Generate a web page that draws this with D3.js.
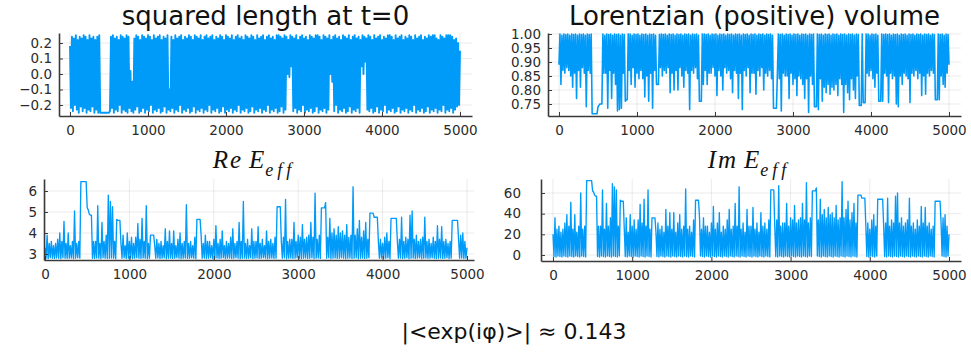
<!DOCTYPE html>
<html>
<head>
<meta charset="utf-8">
<script src="https://cdn.jsdelivr.net/npm/d3@7"></script>
<style>
  body { margin: 0; background: #fff; }
  svg { display: block; }
  .tick text { font-family: "DejaVu Sans", sans-serif; font-size: 13.5px; fill: #2b2b2b; }
</style>
</head>
<body>
<div id="chart"></div>
<script>
// Monte Carlo steps, read in blocks of 25 steps (0 ... 5000).
// Each series is kept as two readings per block: one at the block start,
// one half a block later (the trace swings between them many times).
const mcSteps = d3.range(0, 5001, 25);

// squared length at t=0
const sqLengthA = [
  0.18,0.24,0.23,0.25,0.22,0.24,0.23,0.25,0.24,0.22,
  0.25,0.23,0.24,0.22,0.24,0.25,-0.25,-0.25,-0.25,-0.25,
  -0.25,0.24,0.25,0.23,0.24,0.22,0.25,0.24,0.23,0.25,
  0.24,0.02,-0.05,0.23,0.25,0.24,0.22,0.25,0.24,0.23,
  0.25,0.24,0.22,0.25,0.23,0.24,0.25,0.22,0.24,0.23,
  0.25,-0.1,0.24,0.22,0.25,0.23,0.24,0.25,0.22,0.24,
  0.23,0.25,0.24,0.22,0.25,0.24,0.23,0.25,0.22,0.24,
  0.25,0.23,0.24,0.25,0.22,0.24,0.23,0.25,0.24,0.22,
  0.25,0.24,0.23,0.25,0.22,0.24,0.25,0.23,0.24,0.22,
  0.25,0.24,0.23,0.25,0.24,0.22,0.25,0.23,0.24,0.25,
  0.22,0.24,0.25,0.23,0.24,0.22,0.25,0.25,0.24,0.23,
  0.25,0.24,0.22,0.25,0.24,0.23,0.25,0.22,0.24,0.25,
  0.23,0.24,0.22,0.25,0.24,0.23,0.25,0.25,0.24,0.22,
  0.25,0.24,0.23,0.25,0.22,0.24,0.25,0.23,0.24,0.22,
  0.25,0.24,0.23,0.25,0.22,0.24,0.25,0.23,0.24,0.22,
  0.25,0.24,0.23,0.25,0.24,0.22,0.25,0.23,0.24,0.25,
  0.22,0.24,0.23,0.25,0.25,0.24,0.22,0.25,0.23,0.24,
  0.25,0.22,0.24,0.23,0.25,0.24,0.22,0.25,0.23,0.24,
  0.25,0.22,0.24,0.23,0.25,0.24,0.25,0.25,0.23,0.22,
  0.25,0.24,0.23,0.25,0.25,0.25,0.24,0.22,0.23,0.2,
  0.15
];
const sqLengthB = [
  -0.22,-0.24,-0.2,-0.23,-0.25,-0.21,-0.24,-0.22,-0.25,-0.23,
  -0.24,-0.21,-0.25,-0.23,-0.25,-0.25,-0.25,-0.25,-0.25,-0.25,
  -0.24,-0.22,-0.25,-0.23,-0.24,-0.2,-0.25,-0.23,-0.24,-0.25,
  -0.22,-0.24,-0.25,-0.23,-0.21,-0.25,-0.24,-0.22,-0.25,-0.23,
  -0.24,-0.2,-0.25,-0.23,-0.24,-0.22,-0.25,-0.24,-0.21,-0.25,
  -0.23,-0.24,-0.22,-0.25,-0.23,-0.24,-0.2,-0.25,-0.23,-0.24,
  -0.22,-0.25,-0.24,-0.21,-0.25,-0.23,-0.24,-0.22,-0.25,-0.23,
  -0.24,-0.2,-0.25,-0.23,-0.24,-0.22,-0.25,-0.24,-0.21,-0.25,
  -0.23,-0.24,-0.22,-0.25,-0.23,-0.24,-0.2,-0.25,-0.23,-0.24,
  -0.22,-0.25,-0.24,-0.21,-0.25,-0.23,-0.24,-0.22,-0.25,-0.23,
  -0.24,-0.2,-0.25,-0.23,-0.24,-0.22,-0.25,-0.24,-0.21,-0.25,
  -0.23,0.0,-0.02,0.05,-0.24,-0.22,-0.25,-0.23,-0.24,-0.2,
  -0.25,-0.23,-0.24,-0.22,-0.25,-0.24,-0.21,-0.25,-0.23,-0.24,
  -0.22,-0.25,-0.23,0.0,-0.05,-0.24,-0.2,-0.25,-0.23,-0.24,
  -0.22,-0.25,-0.24,-0.21,-0.25,-0.23,-0.24,-0.22,-0.25,0.05,
  0.0,0.08,-0.23,-0.24,-0.22,-0.25,-0.24,-0.21,-0.25,-0.23,
  -0.24,-0.2,-0.25,-0.23,-0.24,-0.22,-0.25,-0.24,-0.21,-0.25,
  -0.23,-0.24,-0.22,-0.25,-0.23,-0.24,-0.2,-0.25,-0.23,-0.24,
  -0.22,-0.25,-0.24,-0.21,-0.25,-0.23,-0.24,-0.22,-0.25,-0.23,
  -0.24,-0.2,-0.25,-0.23,-0.24,-0.22,-0.25,-0.23,-0.21,-0.2,
  -0.21
];

// Lorentzian (positive) volume
const lorVolumeA = [
  0.89,0.82,0.87,0.86,0.88,0.87,0.85,0.81,0.86,0.77,
  0.87,0.81,0.88,0.86,0.74,0.87,0.86,0.715,0.715,0.715,
  0.74,0.75,0.75,0.86,0.86,0.735,0.87,0.77,0.86,0.82,
  0.725,0.73,0.735,0.86,0.76,0.765,0.87,0.82,0.88,0.81,
  0.86,0.84,0.87,0.84,0.775,0.85,0.76,0.86,0.735,0.87,
  0.82,0.82,0.88,0.85,0.87,0.86,0.88,0.79,0.86,0.80,
  0.87,0.80,0.88,0.85,0.81,0.87,0.86,0.73,0.87,0.86,
  0.88,0.84,0.76,0.76,0.82,0.87,0.82,0.86,0.86,0.88,
  0.85,0.78,0.87,0.85,0.80,0.88,0.86,0.87,0.84,0.79,
  0.87,0.86,0.77,0.86,0.73,0.87,0.85,0.88,0.79,0.86,
  0.86,0.785,0.87,0.85,0.88,0.80,0.86,0.85,0.87,0.84,
  0.735,0.735,0.86,0.84,0.725,0.86,0.85,0.85,0.77,0.86,
  0.82,0.84,0.78,0.85,0.84,0.82,0.77,0.84,0.72,0.85,
  0.82,0.74,0.74,0.73,0.84,0.76,0.81,0.79,0.82,0.785,
  0.81,0.80,0.82,0.78,0.84,0.82,0.72,0.82,0.79,0.765,
  0.84,0.80,0.77,0.85,0.745,0.745,0.755,0.755,0.86,0.85,
  0.87,0.84,0.81,0.86,0.76,0.76,0.76,0.86,0.85,0.755,
  0.86,0.84,0.85,0.75,0.74,0.85,0.82,0.86,0.85,0.84,
  0.755,0.86,0.85,0.87,0.84,0.86,0.78,0.85,0.785,0.86,
  0.85,0.87,0.86,0.765,0.765,0.765,0.85,0.82,0.81,0.86,
  0.89
];
const lorVolumeB = [
  1,0.995,1,0.998,1,0.995,1,0.998,1,0.995,
  1,0.998,1,0.995,1,0.998,1,0.715,0.715,0.715,
  0.745,0.75,1,0.995,1,0.998,1,0.995,1,0.998,
  1,0.995,1,0.998,0.765,1,1,0.995,1,0.998,
  1,0.995,1,0.998,1,0.995,1,0.998,1,0.995,
  0.82,0.998,1,0.998,1,0.995,1,0.998,1,0.995,
  1,0.998,1,0.995,1,0.998,1,0.995,1,0.998,
  1,0.995,0.76,1,1,0.998,1,0.995,1,0.998,
  1,0.995,1,0.998,1,0.995,1,0.998,1,0.995,
  1,0.998,1,0.995,1,0.998,1,0.995,1,0.998,
  1,0.995,1,0.998,1,0.995,1,0.998,1,0.995,
  0.735,0.735,1,0.998,1,0.995,1,0.998,1,0.995,
  1,0.998,1,0.995,1,0.998,1,0.995,1,0.998,
  1,0.74,1,0.998,1,0.995,1,0.998,1,0.995,
  1,0.998,1,0.995,1,0.998,1,0.995,1,0.998,
  1,0.995,1,0.998,0.745,1,0.755,1,1,0.995,
  1,0.998,1,0.995,0.76,1,0.998,1,0.998,1,
  0.995,1,0.998,1,0.995,1,0.998,1,0.995,1,
  0.998,1,0.995,1,0.998,1,0.995,1,0.998,1,
  0.995,1,0.998,0.765,1,0.998,1,0.995,1,0.998,
  1
];

// Re E_eff
const reEeffA = [
  3.3,3.9,3.5,3.6,3.4,3.5,3.7,4.0,3.6,4.55,
  3.5,4.0,3.4,3.6,5.05,3.5,3.6,6.45,6.45,6.45,
  5.2,4.9,4.85,3.6,3.6,5.3,3.5,4.5,3.6,3.9,
  5.8,5.5,5.25,3.6,4.65,4.6,3.5,3.9,3.4,4.0,
  3.6,3.8,3.5,3.8,4.45,3.7,4.7,3.6,5.3,3.5,
  3.9,3.9,3.4,3.7,3.5,3.6,3.4,4.2,3.6,4.1,
  3.5,4.1,3.4,3.7,4.0,3.5,3.6,5.35,3.5,3.6,
  3.4,3.8,4.65,4.65,3.9,3.5,3.9,3.6,3.6,3.4,
  3.7,4.35,3.5,3.7,4.1,3.4,3.6,3.5,3.8,4.2,
  3.5,3.6,4.5,3.6,5.5,3.5,3.7,3.4,4.2,3.6,
  3.6,4.3,3.5,3.7,3.4,4.1,3.6,3.7,3.5,3.8,
  5.25,5.25,3.6,3.8,5.6,3.6,3.7,3.7,4.5,3.6,
  3.9,3.8,4.4,3.7,3.8,3.9,4.5,3.8,5.9,3.7,
  3.9,5.2,5.2,5.45,3.8,4.7,4.0,4.2,3.9,4.3,
  4.0,4.1,3.9,4.4,3.8,3.9,6.2,3.9,4.2,4.6,
  3.8,4.1,4.5,3.7,4.95,4.95,4.75,4.75,3.6,3.7,
  3.5,3.8,4.0,3.6,4.7,4.7,4.7,3.6,3.7,4.75,
  3.6,3.8,3.7,4.85,5.05,3.7,3.9,3.6,3.7,3.8,
  4.75,3.6,3.7,3.5,3.8,3.6,4.35,3.7,4.3,3.6,
  3.7,3.5,3.6,4.6,4.6,4.6,3.7,3.9,4.0,3.6,
  3.3
];
const reEeffB = [
  2.8,2.78,2.82,2.8,2.79,2.81,2.8,2.78,2.82,2.8,
  2.79,2.8,2.81,2.78,2.8,2.82,2.8,6.45,6.45,6.45,
  5.1,4.85,2.8,2.79,2.81,2.8,2.78,2.82,2.8,2.79,
  2.8,2.81,2.8,2.78,4.6,4.6,2.8,2.82,2.79,2.8,
  2.81,2.78,2.8,2.82,2.8,2.79,2.81,2.8,2.78,2.8,
  3.9,3.9,2.8,2.81,2.79,2.8,2.82,2.78,2.8,2.81,
  2.79,2.8,2.82,2.8,2.78,2.8,2.81,2.79,2.8,2.82,
  2.8,2.78,4.65,4.65,2.8,2.81,2.79,2.8,2.82,2.78,
  2.8,2.81,2.79,2.8,2.82,2.78,2.8,2.81,2.79,2.8,
  2.82,2.8,2.78,2.8,2.81,2.79,2.8,2.82,2.78,2.8,
  2.81,2.79,2.8,2.82,2.8,2.78,2.8,2.81,2.79,2.8,
  5.25,5.25,2.8,2.82,2.78,2.8,2.81,2.79,2.8,2.82,
  2.8,2.78,2.8,2.81,2.79,2.8,2.82,2.78,2.8,2.81,
  2.79,5.2,5.2,2.8,2.82,2.78,2.8,2.81,2.79,2.8,
  2.82,2.8,2.78,2.8,2.81,2.79,2.8,2.82,2.78,2.8,
  2.81,2.79,2.8,2.82,4.95,4.95,4.75,4.75,2.8,2.81,
  2.79,2.8,2.82,2.78,4.7,4.7,4.7,2.8,2.81,2.79,
  2.8,2.82,2.78,2.8,2.81,2.79,2.8,2.82,2.78,2.8,
  2.81,2.79,2.8,2.82,2.8,2.78,2.8,2.81,2.79,2.8,
  2.82,2.78,2.8,4.6,4.6,4.6,2.8,2.81,2.79,2.8,
  2.8
];

// Im E_eff
const imEeffA = [
  20,36,25,28,22,25,31,39,28,51,
  25,39,22,28,60,25,28,72,72,72,
  62,58,57,28,28,63,25,50,28,36,
  69,66,63,28,53,52,25,36,22,39,
  28,34,25,34,49,31,54,28,63,25,
  36,36,22,31,25,28,22,44,28,41,
  25,41,22,31,39,25,28,64,25,28,
  22,34,53,53,36,25,36,28,28,22,
  31,47,25,31,41,22,28,25,34,44,
  25,28,50,28,66,25,31,22,44,28,
  28,46,25,31,22,41,28,31,25,34,
  63,63,28,34,67,28,31,31,50,28,
  36,34,48,31,34,36,50,34,70,31,
  36,62,62,65,34,54,39,44,36,46,
  39,41,36,48,34,36,71,36,44,52,
  34,41,50,31,58,58,55,55,28,31,
  25,34,39,28,54,54,54,28,31,55,
  28,34,31,57,60,31,36,28,31,34,
  55,28,31,25,34,28,47,31,46,28,
  31,25,28,52,52,52,31,36,39,28,
  20
];
const imEeffB = [
  -1.5,-2,-1,-1.5,-2,-1,-1.5,-2,-1,-1.5,
  -2,-1,-1.5,-2,-1,-1.5,-2,72,72,72,
  61,57,-1.5,-2,-1,-1.5,-2,-1,-1.5,-2,
  -1,-1.5,-2,-1,52,52,-1.5,-2,-1,-1.5,
  -2,-1,-1.5,-2,-1,-1.5,-2,-1,-1.5,-2,
  36,36,-1.5,-2,-1,-1.5,-2,-1,-1.5,-2,
  -1,-1.5,-2,-1,-1.5,-2,-1,-1.5,-2,-1,
  -1.5,-2,53,53,-1,-1.5,-2,-1,-1.5,-2,
  -1,-1.5,-2,-1,-1.5,-2,-1,-1.5,-2,-1,
  -1.5,-2,-1,-1.5,-2,-1,-1.5,-2,-1,-1.5,
  -2,-1,-1.5,-2,-1,-1.5,-2,-1,-1.5,-2,
  63,63,-1.5,-2,-1,-1.5,-2,-1,-1.5,-2,
  -1,-1.5,-2,-1,-1.5,-2,-1,-1.5,-2,-1,
  -1.5,62,62,-1,-1.5,-2,-1,-1.5,-2,-1,
  -1.5,-2,-1,-1.5,-2,-1,-1.5,-2,-1,-1.5,
  -2,-1,-1.5,-2,58,58,55,55,-1.5,-2,
  -1,-1.5,-2,-1,54,54,54,-1.5,-2,-1,
  -1.5,-2,-1,-1.5,-2,-1,-1.5,-2,-1,-1.5,
  -2,-1,-1.5,-2,-1,-1.5,-2,-1,-1.5,-2,
  -1,-1.5,-2,52,52,52,-1,-1.5,-2,-1,
  -1.5
];

const xTicks = [0, 1000, 2000, 3000, 4000, 5000];
const sqLengthTicks = [-0.2, -0.1, 0.0, 0.1, 0.2];
const lorVolumeTicks = [0.75, 0.80, 0.85, 0.90, 0.95, 1.00];
const reEeffTicks = [3, 4, 5, 6];
const imEeffTicks = [0, 20, 40, 60];

const lineColor = '#009af9';
const width = 971, height = 354;

const svg = d3.select('#chart').append('svg')
  .attr('width', width)
  .attr('height', height);

// one subplot; frame = axis box, xPix/yPix = pixel anchors of two data values
function drawPanel(p) {
  const x = d3.scaleLinear().domain([0, 5000]).range(p.xPix);
  x.domain([x.invert(p.frame.left), x.invert(p.frame.right)]).range([p.frame.left, p.frame.right]);
  const y = d3.scaleLinear().domain(p.yAnchor).range(p.yPix);
  y.domain([y.invert(p.frame.bottom), y.invert(p.frame.top)]).range([p.frame.bottom, p.frame.top]);

  const g = svg.append('g');

  // grid
  g.append('g').selectAll('line').data(xTicks).enter().append('line')
    .attr('x1', d => x(d)).attr('x2', d => x(d))
    .attr('y1', p.frame.top).attr('y2', p.frame.bottom)
    .attr('stroke', '#000').attr('stroke-opacity', 0.08).attr('stroke-width', 1);
  g.append('g').selectAll('line').data(p.yTicks).enter().append('line')
    .attr('x1', p.frame.left).attr('x2', p.frame.right)
    .attr('y1', d => y(d)).attr('y2', d => y(d))
    .attr('stroke', '#000').attr('stroke-opacity', 0.08).attr('stroke-width', 1);

  // series: reading A at block start, reading B half a block later
  const pts = [];
  mcSteps.forEach((s, i) => {
    pts.push([s, p.a[i]]);
    if (i < mcSteps.length - 1) pts.push([s + 12.5, p.b[i]]);
  });
  const line = d3.line()
    .x(d => x(d[0]))
    .y(d => y(d[1]));
  g.append('path')
    .datum(pts)
    .attr('d', line)
    .attr('fill', 'none')
    .attr('stroke', lineColor)
    .attr('stroke-width', p.lw)
    .attr('stroke-linejoin', 'round');

  // axes
  const xAxis = g.append('g')
    .attr('transform', `translate(0,${p.frame.bottom})`)
    .call(d3.axisBottom(x).tickValues(xTicks).tickFormat(d3.format('d'))
      .tickSizeInner(-4).tickSizeOuter(0).tickPadding(9));
  const yAxis = g.append('g')
    .attr('transform', `translate(${p.frame.left},0)`)
    .call(d3.axisLeft(y).tickValues(p.yTicks).tickFormat(d3.format(p.yFormat))
      .tickSizeInner(-4).tickSizeOuter(0).tickPadding(p.yPad));
  [xAxis, yAxis].forEach(a => {
    a.select('.domain').attr('stroke', '#3a3a3a').attr('stroke-width', 1.6);
    a.selectAll('.tick line').attr('stroke', '#3a3a3a').attr('stroke-width', 1);
  });

  // title
  const cx = (p.frame.left + p.frame.right) / 2;
  if (p.title) {
    g.append('text')
      .attr('x', cx).attr('y', 25)
      .attr('text-anchor', 'middle')
      .style('font-family', '"DejaVu Sans", sans-serif')
      .style('font-size', '26px')
      .attr('fill', '#111')
      .text(p.title);
  } else {
    const t = g.append('text')
      .attr('x', p.titleX).attr('y', 168)
      .attr('text-anchor', 'middle')
      .style('font-family', '"Liberation Serif", "DejaVu Serif", serif')
      .style('font-style', 'italic')
      .style('font-size', '25px')
      .attr('fill', '#111');
    t.append('tspan').style('letter-spacing', '2px').text(p.mathPrefix);
    t.append('tspan').attr('dx', 6).text('E');
    t.append('tspan').attr('dy', 8).attr('dx', 1)
      .style('font-size', '18px').style('letter-spacing', '4px').text('eff');
  }
}

drawPanel({
  a: sqLengthA, b: sqLengthB, title: 'squared length at t=0', lw: 1.9,
  frame: { left: 59, right: 472, top: 33, bottom: 116 },
  xPix: [70, 460], yAnchor: [-0.2, 0.2], yPix: [105, 43],
  yTicks: sqLengthTicks, yFormat: '.1f', yPad: 7
});
drawPanel({
  a: lorVolumeA, b: lorVolumeB, title: 'Lorentzian (positive) volume', lw: 1.6,
  frame: { left: 548, right: 961, top: 33, bottom: 116 },
  xPix: [559, 949], yAnchor: [0.75, 1.0], yPix: [104, 34],
  yTicks: lorVolumeTicks, yFormat: '.2f', yPad: 7
});
drawPanel({
  a: reEeffA, b: reEeffB, mathPrefix: 'Re', titleX: 254, lw: 1.35,
  frame: { left: 44, right: 474, top: 179, bottom: 260 },
  xPix: [45, 467], yAnchor: [3, 6], yPix: [254, 191],
  yTicks: reEeffTicks, yFormat: 'd', yPad: 7
});
drawPanel({
  a: imEeffA, b: imEeffB, mathPrefix: 'Im', titleX: 749, lw: 1.35,
  frame: { left: 541, right: 961, top: 179, bottom: 261 },
  xPix: [553, 949], yAnchor: [0, 60], yPix: [255, 193],
  yTicks: imEeffTicks, yFormat: 'd', yPad: 20
});

// overall annotation
svg.append('text')
  .attr('x', 514).attr('y', 339)
  .attr('text-anchor', 'middle')
  .style('font-family', '"DejaVu Sans", sans-serif')
  .style('font-size', '22px')
  .attr('fill', '#111')
  .text('|<exp(i\u03c6)>| \u2248 0.143');
</script>
</body>
</html>
